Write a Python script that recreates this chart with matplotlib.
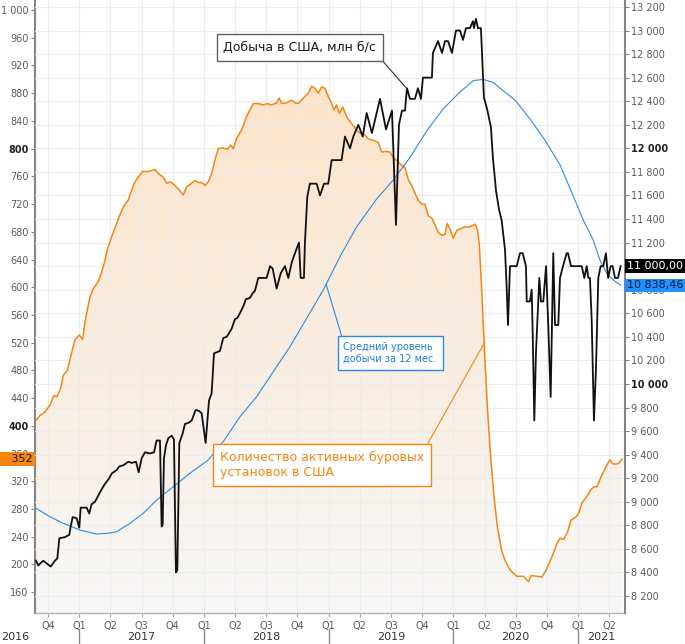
import numpy as np
import matplotlib
matplotlib.use("Agg")
import matplotlib.pyplot as plt
import matplotlib.transforms as mtransforms


# ── Data (time as decimal year) ───────────────────────────────────────────────
# Weekly US crude production, thousand b/d (right axis)
prod_t = [
    2016.654, 2016.672, 2016.712, 2016.772, 2016.806, 2016.825, 2016.841, 2016.886,
    2016.921, 2016.932, 2016.948, 2016.980, 2017.001, 2017.012, 2017.060, 2017.081,
    2017.100, 2017.127, 2017.167, 2017.199, 2017.241, 2017.261, 2017.301, 2017.322,
    2017.354, 2017.394, 2017.421, 2017.456, 2017.477, 2017.501, 2017.528, 2017.568,
    2017.600, 2017.621, 2017.648, 2017.661, 2017.669, 2017.680, 2017.696, 2017.715,
    2017.742, 2017.760, 2017.776, 2017.787, 2017.803, 2017.830, 2017.848, 2017.875,
    2017.902, 2017.934, 2017.963, 2017.982, 2018.014, 2018.041, 2018.062, 2018.081,
    2018.129, 2018.155, 2018.183, 2018.223, 2018.249, 2018.268, 2018.289, 2018.316,
    2018.337, 2018.369, 2018.391, 2018.409, 2018.436, 2018.503, 2018.530, 2018.551,
    2018.583, 2018.616, 2018.650, 2018.677, 2018.704, 2018.730, 2018.762, 2018.776,
    2018.802, 2018.810, 2018.829, 2018.850, 2018.904, 2018.931, 2018.963, 2018.997,
    2019.024, 2019.104, 2019.131, 2019.171, 2019.198, 2019.238, 2019.273, 2019.305,
    2019.347, 2019.412, 2019.460, 2019.508, 2019.540, 2019.564, 2019.588, 2019.612,
    2019.628, 2019.652, 2019.692, 2019.716, 2019.740, 2019.756, 2019.828, 2019.836,
    2019.877, 2019.909, 2019.933, 2019.957, 2019.989, 2020.021, 2020.053, 2020.077,
    2020.101, 2020.133, 2020.157, 2020.165, 2020.181, 2020.197, 2020.221, 2020.245,
    2020.269, 2020.301, 2020.317, 2020.342, 2020.366, 2020.387, 2020.414, 2020.427,
    2020.438, 2020.454, 2020.508, 2020.534, 2020.556, 2020.582, 2020.588, 2020.614,
    2020.628, 2020.636, 2020.649, 2020.662, 2020.689, 2020.702, 2020.721, 2020.743,
    2020.761, 2020.780, 2020.801, 2020.815, 2020.841, 2020.855, 2020.879, 2020.908,
    2020.919, 2020.943, 2021.029, 2021.050, 2021.069, 2021.082, 2021.095, 2021.109,
    2021.127, 2021.143, 2021.162, 2021.181, 2021.202, 2021.223, 2021.241, 2021.261,
    2021.277, 2021.296, 2021.320, 2021.341,
]
prod_v = [
    8500, 8460, 8500, 8450, 8500, 8520, 8690, 8700,
    8720, 8790, 8870, 8860, 8780, 8950, 8950, 8900,
    8980, 9000, 9080, 9140, 9200, 9240, 9270, 9300,
    9310, 9340, 9330, 9340, 9250, 9370, 9420, 9410,
    9420, 9520, 9520, 8790, 8800, 9370, 9480, 9540,
    9560, 9530, 8400, 8420, 9500, 9580, 9660, 9670,
    9690, 9780, 9770, 9750, 9500, 9860, 9920, 10260,
    10280, 10390, 10400, 10470, 10550, 10560, 10600, 10660,
    10720, 10730, 10770, 10790, 10900, 10900, 11000, 10980,
    10810, 10940, 11000, 10900, 11030, 11110, 11200, 10900,
    10900, 11200, 11590, 11700, 11700, 11600, 11700, 11700,
    11900, 11900, 12100, 12000, 12100, 12200, 12100, 12300,
    12130, 12420, 12160, 12320, 11350, 12200, 12320, 12320,
    12510, 12420, 12420, 12510, 12420, 12600, 12600, 12810,
    12910, 12810, 12910, 12910, 12810, 13000, 13000, 12920,
    13020, 13020, 13080, 13020, 13100, 13020, 13020, 12430,
    12340, 12180, 11920, 11640, 11480, 11390, 11140, 10830,
    10500, 11000, 11000, 11110, 11110, 11000, 10700, 10700,
    10800, 10430, 9690, 10260, 10900, 10700, 10700, 11000,
    10490, 9890, 11110, 10500, 10500, 10900, 11000, 11110,
    11110, 11000, 11000, 10900, 11000, 10900, 10900, 10540,
    9690, 10120, 10900, 11000, 11000, 11110, 10900, 11000,
    11000, 10900, 10900, 11000,
]

# 12-month average production (right axis)
avg_t = [
    2016.654, 2016.766, 2016.873, 2017.007, 2017.140, 2017.247, 2017.301, 2017.407,
    2017.514, 2017.621, 2017.755, 2017.888, 2018.035, 2018.155, 2018.289, 2018.423,
    2018.556, 2018.690, 2018.824, 2018.957, 2019.091, 2019.225, 2019.385, 2019.518,
    2019.652, 2019.786, 2019.919, 2020.053, 2020.160, 2020.240, 2020.320, 2020.374,
    2020.494, 2020.614, 2020.734, 2020.855, 2020.975, 2021.041, 2021.121, 2021.175,
    2021.229, 2021.282, 2021.341,
]
avg_v = [
    8945, 8873, 8817, 8760, 8726, 8735, 8746, 8817,
    8902, 9015, 9128, 9242, 9355, 9510, 9722, 9892,
    10104, 10316, 10557, 10798, 11081, 11335, 11570, 11731,
    11922, 12147, 12336, 12478, 12575, 12585, 12559, 12510,
    12410, 12250, 12070, 11860, 11560, 11392, 11222, 11052,
    10940, 10883, 10838.46,
]

# Active oil rigs in the US (left axis)
rigs_t = [
    2016.654, 2016.686, 2016.726, 2016.766, 2016.798, 2016.820, 2016.852, 2016.873,
    2016.905, 2016.932, 2016.966, 2017.001, 2017.028, 2017.047, 2017.065, 2017.087,
    2017.113, 2017.153, 2017.181, 2017.207, 2017.225, 2017.261, 2017.287, 2017.314,
    2017.354, 2017.394, 2017.421, 2017.447, 2017.474, 2017.509, 2017.554, 2017.608,
    2017.634, 2017.674, 2017.702, 2017.734, 2017.768, 2017.803, 2017.835, 2017.862,
    2017.902, 2017.928, 2017.955, 2017.982, 2018.009, 2018.035, 2018.062, 2018.089,
    2018.115, 2018.155, 2018.188, 2018.215, 2018.236, 2018.263, 2018.303, 2018.337,
    2018.369, 2018.396, 2018.436, 2018.476, 2018.508, 2018.543, 2018.583, 2018.604,
    2018.623, 2018.664, 2018.704, 2018.730, 2018.757, 2018.797, 2018.837, 2018.864,
    2018.891, 2018.917, 2018.944, 2018.971, 2018.997, 2019.024, 2019.043, 2019.064,
    2019.086, 2019.113, 2019.145, 2019.171, 2019.203, 2019.238, 2019.291, 2019.318,
    2019.358, 2019.398, 2019.425, 2019.460, 2019.492, 2019.518, 2019.550, 2019.586,
    2019.612, 2019.639, 2019.666, 2019.692, 2019.719, 2019.746, 2019.772, 2019.799,
    2019.826, 2019.853, 2019.879, 2019.906, 2019.933, 2019.951, 2019.973, 2019.999,
    2020.027, 2020.053, 2020.093, 2020.133, 2020.173, 2020.192, 2020.208, 2020.229,
    2020.250, 2020.275, 2020.299, 2020.325, 2020.352, 2020.387, 2020.414, 2020.454,
    2020.508, 2020.562, 2020.603, 2020.622, 2020.670, 2020.710, 2020.750, 2020.790,
    2020.830, 2020.857, 2020.884, 2020.916, 2020.943, 2020.986, 2021.004, 2021.031,
    2021.071, 2021.098, 2021.125, 2021.152, 2021.178, 2021.218, 2021.253, 2021.280,
    2021.312, 2021.333, 2021.352,
]
rigs_v = [
    408, 415, 420, 430, 444, 442, 454, 473,
    480, 500, 524, 531, 525, 550, 567, 586,
    598, 608, 622, 639, 654, 673, 685, 699,
    716, 726, 740, 752, 759, 767, 767, 770,
    764, 759, 750, 752, 747, 740, 733, 745,
    750, 754, 751, 751, 747, 752, 764, 784,
    800, 801, 799, 805, 800, 815, 827, 844,
    856, 865, 865, 863, 865, 863, 866, 873,
    865, 866, 870, 866, 865, 873, 880, 890,
    887, 880, 889, 887, 875, 865, 856, 863,
    851, 860, 846, 839, 832, 824, 820, 814,
    812, 809, 795, 796, 795, 787, 782, 776,
    773, 755, 747, 736, 725, 720, 720, 703,
    700, 690, 679, 675, 676, 692, 684, 671,
    682, 684, 687, 687, 691, 684, 662, 590,
    505, 420, 355, 300, 255, 220, 206, 192,
    183, 183, 175, 184, 183, 182, 194, 211,
    230, 238, 236, 247, 264, 269, 274, 289,
    298, 307, 312, 312, 324, 339, 351, 345,
    345, 347, 352,
]

LEFT_TICKS = list(range(160, 1001, 40))
RIGHT_TICKS = list(range(8200, 13201, 200))
LEFT_BOLD = (400, 800)
RIGHT_BOLD = (10000, 12000)
YEARS = [2016, 2017, 2018, 2019, 2020, 2021]

TXT_PROD = "Добыча в США, млн б/с"
TXT_AVG = "Средний уровень\nдобычи за 12 мес."
TXT_RIGS = "Количество активных буровых\nустановок в США"

# ── Style ─────────────────────────────────────────────────────────────────────
C_ORANGE = "#f88410"
C_BLUE = "#2a8ce8"
C_BLACK = "#111111"
C_GRID = "#ececec"
C_AXIS = "#858585"

X_LIM = (2016.646, 2021.376)
LEFT_LIM = (130, 1014.4)
RIGHT_LIM = (8056, 13259)


def fmt_space(v):
    return f"{int(round(v)):,}".replace(",", " ")


def fmt_value(v):
    return f"{v:,.2f}".replace(",", " ").replace(".", ",")


W, H = 685, 644
fig = plt.figure(figsize=(W / 100, H / 100), dpi=100)
ax1 = fig.add_axes([35 / W, 31 / H, 590 / W, 613 / H])
ax2 = ax1.twinx()

# ── Gradient area under the rig count ────────────────────────────────────────
poly = ax1.fill_between(rigs_t, rigs_v, LEFT_LIM[0],
                        facecolor="none", edgecolor="none")
top = np.array([253, 224, 194]) / 255
bot = np.array([247, 247, 247]) / 255
g = np.linspace(0, 1, 256)[:, None, None]
grad = top + (bot - top) * g
im = ax1.imshow(grad, extent=[X_LIM[0], X_LIM[1], LEFT_LIM[0], LEFT_LIM[1]],
                aspect="auto", origin="upper", zorder=0, interpolation="bilinear")
im.set_clip_path(poly.get_paths()[0], transform=ax1.transData)

# ── Axes setup ───────────────────────────────────────────────────────────────
q_ticks = [2016.75 + 0.25 * i for i in range(19)]
q_labels = [f"Q{int(round((t % 1) * 4)) + 1}" for t in q_ticks]
ax1.set_xticks(q_ticks, labels=q_labels)
ax1.set_yticks(LEFT_TICKS, labels=[fmt_space(v) for v in LEFT_TICKS])
ax2.set_yticks(RIGHT_TICKS, labels=[fmt_space(v) for v in RIGHT_TICKS])

ax1.grid(axis="x", color=C_GRID, lw=0.8)
ax2.grid(axis="y", color=C_GRID, lw=0.8)

for ax in (ax1, ax2):
    ax.tick_params(axis="y", direction="out", length=3, width=0.8,
                   color=C_AXIS, labelsize=7, labelcolor="#5a5a5a", pad=1.5)
ax1.tick_params(axis="x", direction="out", length=3, width=0.8,
                color="#aaaaaa", labelsize=7, labelcolor="#5a5a5a", pad=3)

for lbl, v in zip(ax1.get_yticklabels(), LEFT_TICKS):
    if v in LEFT_BOLD:
        lbl.set_fontweight("bold")
        lbl.set_color("#222222")
for lbl, v in zip(ax2.get_yticklabels(), RIGHT_TICKS):
    if v in RIGHT_BOLD:
        lbl.set_fontweight("bold")
        lbl.set_color("#222222")

for s in ("top", "right"):
    ax1.spines[s].set_visible(False)
for s in ("top", "left", "bottom"):
    ax2.spines[s].set_visible(False)
ax1.spines["left"].set_color(C_AXIS)
ax1.spines["left"].set_linewidth(1.5)
ax2.spines["right"].set_color(C_AXIS)
ax2.spines["right"].set_linewidth(1.5)
ax1.spines["bottom"].set_color("#b0b0b0")
ax1.spines["bottom"].set_linewidth(1.0)

# ── Lines ────────────────────────────────────────────────────────────────────
ax2.plot(rigs_t, rigs_v, color=C_ORANGE, lw=1.1, transform=ax1.transData, zorder=3)
ax2.plot(avg_t, avg_v, color=C_BLUE, lw=0.8, zorder=4)
ax2.plot(prod_t, prod_v, color=C_BLACK, lw=1.3, zorder=5)

ax1.set_xlim(*X_LIM)
ax1.set_ylim(*LEFT_LIM)
ax2.set_ylim(*RIGHT_LIM)

# ── Year labels below the quarters ───────────────────────────────────────────
trans = mtransforms.blended_transform_factory(ax1.transData, ax1.transAxes)
for yr in YEARS[1:]:
    ax1.plot([yr, yr], [-16 / 613, -31 / 613], transform=trans,
             color="#8a8a8a", lw=1, clip_on=False)
year_pos = {yr: yr + 0.5 for yr in YEARS}
year_pos[2021] = (2021 + X_LIM[1]) / 2
for yr in YEARS:
    if yr == 2016:
        ax1.text(-20 / 590, -24 / 613, str(yr), transform=ax1.transAxes,
                 ha="center", va="center", fontsize=8, color="#333333")
    else:
        ax1.text(year_pos[yr], -24 / 613, str(yr), transform=trans,
                 ha="center", va="center", fontsize=8, color="#333333")

# ── Last value tags ──────────────────────────────────────────────────────────
ax1.annotate("   " + fmt_space(rigs_v[-1]), xy=(0, rigs_v[-1]),
             xycoords=("axes fraction", "data"), xytext=(-1.5, 0),
             textcoords="offset points", ha="right", va="center",
             fontsize=8, color="#111111", zorder=10, annotation_clip=False,
             bbox=dict(boxstyle="square,pad=0.15", fc="#f7860f", ec="none"))
ax2.annotate(fmt_value(prod_v[-1]), xy=(1, prod_v[-1]),
             xycoords=("axes fraction", "data"), xytext=(1.5, 0),
             textcoords="offset points", ha="left", va="center",
             fontsize=8, color="white", zorder=10, annotation_clip=False,
             bbox=dict(boxstyle="square,pad=0.15", fc="#000000", ec="none"))
ax2.annotate(fmt_value(avg_v[-1]), xy=(1, avg_v[-1]),
             xycoords=("axes fraction", "data"), xytext=(1.5, 0),
             textcoords="offset points", ha="left", va="center",
             fontsize=8, color="#0a1a33", zorder=10, annotation_clip=False,
             bbox=dict(boxstyle="square,pad=0.15", fc="#1e90ff", ec="none"))

# ── Callouts ─────────────────────────────────────────────────────────────────
t_prod = 2019.63
ax2.annotate(TXT_PROD, xy=(t_prod, np.interp(t_prod, prod_t, prod_v)),
             xytext=(0.449, 0.923), textcoords="axes fraction",
             ha="center", va="center", fontsize=9, color="#1a1a1a", zorder=12,
             bbox=dict(boxstyle="square,pad=0.55", fc="white", ec="#606060", lw=1),
             arrowprops=dict(arrowstyle="-", color="#333333", lw=0.8,
                             relpos=(1, 0), shrinkA=0, shrinkB=0))

t_avg = 2018.98
ax2.annotate(TXT_AVG, xy=(t_avg, np.interp(t_avg, avg_t, avg_v)),
             xytext=(0.602, 0.424), textcoords="axes fraction",
             ha="center", va="center", multialignment="left",
             fontsize=7, color="#1f7de0", zorder=12,
             bbox=dict(boxstyle="square,pad=0.6", fc="white", ec=C_BLUE, lw=1),
             arrowprops=dict(arrowstyle="-", color=C_BLUE, lw=0.8,
                             relpos=(0, 1), shrinkA=0, shrinkB=0))

ax2.annotate(TXT_RIGS, xy=(2020.25, 520), xycoords=ax1.transData,
             xytext=(0.486, 0.242), textcoords="axes fraction",
             ha="center", va="center", multialignment="left",
             fontsize=9, color=C_ORANGE, zorder=12,
             bbox=dict(boxstyle="square,pad=0.55", fc="white", ec=C_ORANGE, lw=1),
             arrowprops=dict(arrowstyle="-", color=C_ORANGE, lw=0.8,
                             relpos=(1, 1), shrinkA=0, shrinkB=0))

fig.savefig("out.png", dpi=100, facecolor="white")
